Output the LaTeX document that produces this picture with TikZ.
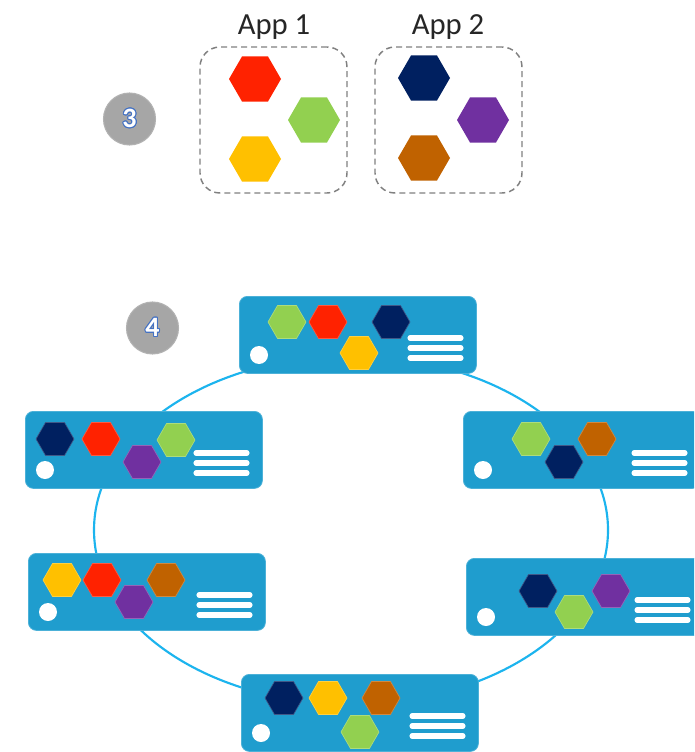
\documentclass[tikz,border=0pt]{standalone}
\usepackage{fontspec}
\setmainfont{Carlito}
\usepackage{xcolor}
\usepackage{contour}
\usepackage{tikz}
\usetikzlibrary{shapes.geometric}

\definecolor{hexred}{HTML}{FF2200}
\definecolor{hexgreen}{HTML}{92D050}
\definecolor{hexyellow}{HTML}{FFC000}
\definecolor{hexnavy}{HTML}{002060}
\definecolor{hexpurple}{HTML}{7030A0}
\definecolor{hexbrown}{HTML}{C06200}
\definecolor{serverblue}{HTML}{1F9DCE}
\definecolor{ringblue}{HTML}{1CB4EE}
\definecolor{badgegray}{HTML}{A6A6A6}
\definecolor{digitblue}{HTML}{4472C4}

\contourlength{0.7pt}

\tikzset{
  hexbig/.style={regular polygon, regular polygon sides=6, minimum size=39pt, inner sep=0pt},
  hexsmall/.style={regular polygon, regular polygon sides=6, minimum size=28.5pt, inner sep=0pt},
  appbox/.style={draw=black!50, dashed, dash pattern=on 4.5pt off 3pt, line width=1.1pt,
    rounded corners=15pt, minimum width=110.25pt, minimum height=109.5pt},
  applabel/.style={anchor=base, text=black!85, font=\fontsize{23}{23}\selectfont, inner sep=0pt},
  badge/.style={circle, fill=badgegray, draw=black!30, line width=0.8pt, minimum size=39pt,
    text=white, font=\bfseries\fontsize{21}{21}\selectfont},
  server/.style={anchor=north west, fill=serverblue, draw=serverblue!80!white, line width=0.6pt,
    rounded corners=6pt, minimum width=177.75pt, minimum height=57.75pt},
  dot/.style={circle, fill=white, minimum size=13.5pt, inner sep=0pt},
  bar/.style={white, line width=3.8pt, line cap=round},
  ring/.style={ringblue, line width=1.6pt}
}

\begin{document}
\begin{tikzpicture}[x=0.75pt, y=-0.75pt]
  \clip (0,0) rectangle (694,752);
  \fill[white] (0,0) rectangle (694,752);

  % step 3: the two apps
  \node[badge] (badge3) at (129.5,119) {\contour{digitblue}{3}};
  \node[appbox] (app1) at (273.5,120) {};
  \node[appbox] (app2) at (448.5,120) {};
  \node[applabel] (lbl1) at (274,35) {App 1};
  \node[applabel] (lbl2) at (448,35) {App 2};
  \node[hexbig, fill=hexred] (a1red) at (255,79) {};
  \node[hexbig, fill=hexgreen] (a1green) at (314,120) {};
  \node[hexbig, fill=hexyellow] (a1yellow) at (255,159) {};
  \node[hexbig, fill=hexnavy] (a2navy) at (424,78) {};
  \node[hexbig, fill=hexpurple] (a2purple) at (483,120) {};
  \node[hexbig, fill=hexbrown] (a2brown) at (424,158) {};

  % step 4: the cluster
  \node[badge] (badge4) at (152.5,328) {\contour{digitblue}{4}};
  \coordinate (ringc) at (351,530);
  \draw[ring] (ringc) ellipse [x radius=257, y radius=174];

  \foreach \n/\x/\y in {nt/239/296, nl/25/411, nr/463/411, sl/28/553, sr/466/558, sb/241/674} {
    \node[server] (\n) at (\x,\y) {};
    \node[dot] (\n dot) at ([shift={(20,59)}]\n.north west) {};
    \foreach \ly in {42,52,62}
      \draw[bar] ([shift={(171,\ly)}]\n.north west) -- ++(51,0);
  }

  \foreach \n/\c/\dx/\dy in {
      nt/hexgreen/48/26, nt/hexred/89/26, nt/hexnavy/152/26, nt/hexyellow/120/57,
      nl/hexnavy/30/28, nl/hexred/76/28, nl/hexpurple/117/51, nl/hexgreen/151/29,
      nr/hexgreen/68/28, nr/hexnavy/101/51, nr/hexbrown/134/28,
      sl/hexyellow/34/27, sl/hexred/74/27, sl/hexpurple/106/49, sl/hexbrown/138/27,
      sr/hexnavy/72/33, sr/hexgreen/108/54, sr/hexpurple/145/33,
      sb/hexnavy/43/24, sb/hexyellow/87/24, sb/hexbrown/140/24, sb/hexgreen/119/58}
    \node[hexsmall, fill=\c, draw=\c!75!white, line width=0.5pt] (\n\c) at ([shift={(\dx,\dy)}]\n.north west) {};
\end{tikzpicture}
\end{document}
